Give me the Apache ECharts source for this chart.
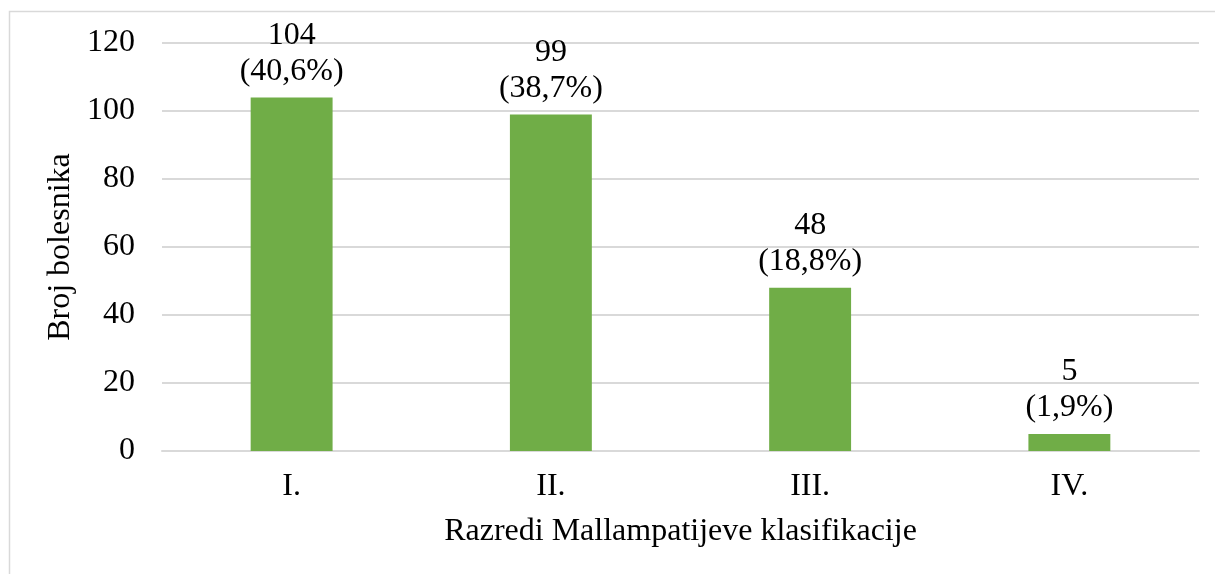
<!DOCTYPE html>
<html><head><meta charset="utf-8">
<script src="https://cdn.jsdelivr.net/npm/echarts@6/dist/echarts.min.js"></script>
<style>html,body{margin:0;padding:0;background:#fff}#c{width:1215px;height:574px}</style>
</head><body><div id="c"></div>
<script>
const categories = ['I.', 'II.', 'III.', 'IV.'];
const counts = [104, 99, 48, 5];
const percents = ['40,6%', '38,7%', '18,8%', '1,9%'];
const yTicks = [0, 20, 40, 60, 80, 100, 120];

const FONT = '"Liberation Serif", "Times New Roman", serif';
const FS = 32;
const chart = echarts.init(document.getElementById('c'), null, {renderer: 'canvas'});
chart.setOption({
  animation: false,
  backgroundColor: '#fff',
  textStyle: {fontFamily: FONT},
  graphic: [{
    type: 'rect', silent: true,
    shape: {x: 9.5, y: 11.5, width: 1400, height: 800},
    style: {fill: 'none', stroke: '#d9d9d9', lineWidth: 1.5}
  }],
  grid: {left: 162, right: 16, top: 43, bottom: 123},
  xAxis: {
    type: 'category', data: categories,
    axisLine: {show: true, lineStyle: {color: '#d9d9d9', width: 2}},
    axisTick: {show: false},
    axisLabel: {color: '#000', fontSize: FS, fontFamily: FONT, margin: 20},
    name: 'Razredi Mallampatijeve klasifikacije',
    nameLocation: 'middle', nameGap: 65,
    nameTextStyle: {color: '#000', fontSize: FS, fontFamily: FONT}
  },
  yAxis: {
    type: 'value', min: 0, max: 120, interval: 20,
    axisLine: {show: false}, axisTick: {show: false},
    splitLine: {lineStyle: {color: '#d9d9d9', width: 2}},
    axisLabel: {color: '#000', fontSize: FS, fontFamily: FONT, margin: 27,
      formatter: v => yTicks.includes(v) ? String(v) : ''},
    name: 'Broj bolesnika', nameLocation: 'middle', nameGap: 84, nameRotate: 90,
    nameTextStyle: {color: '#000', fontSize: FS, fontFamily: FONT}
  },
  series: [{
    type: 'bar', data: counts, barWidth: '31.6%',
    itemStyle: {color: '#70ad47'},
    label: {
      show: true, position: 'top', distance: 8, color: '#000',
      fontSize: FS, fontFamily: FONT, lineHeight: 36, align: 'center',
      formatter: p => p.value + '\n(' + percents[p.dataIndex] + ')'
    }
  }]
});
</script></body></html>
